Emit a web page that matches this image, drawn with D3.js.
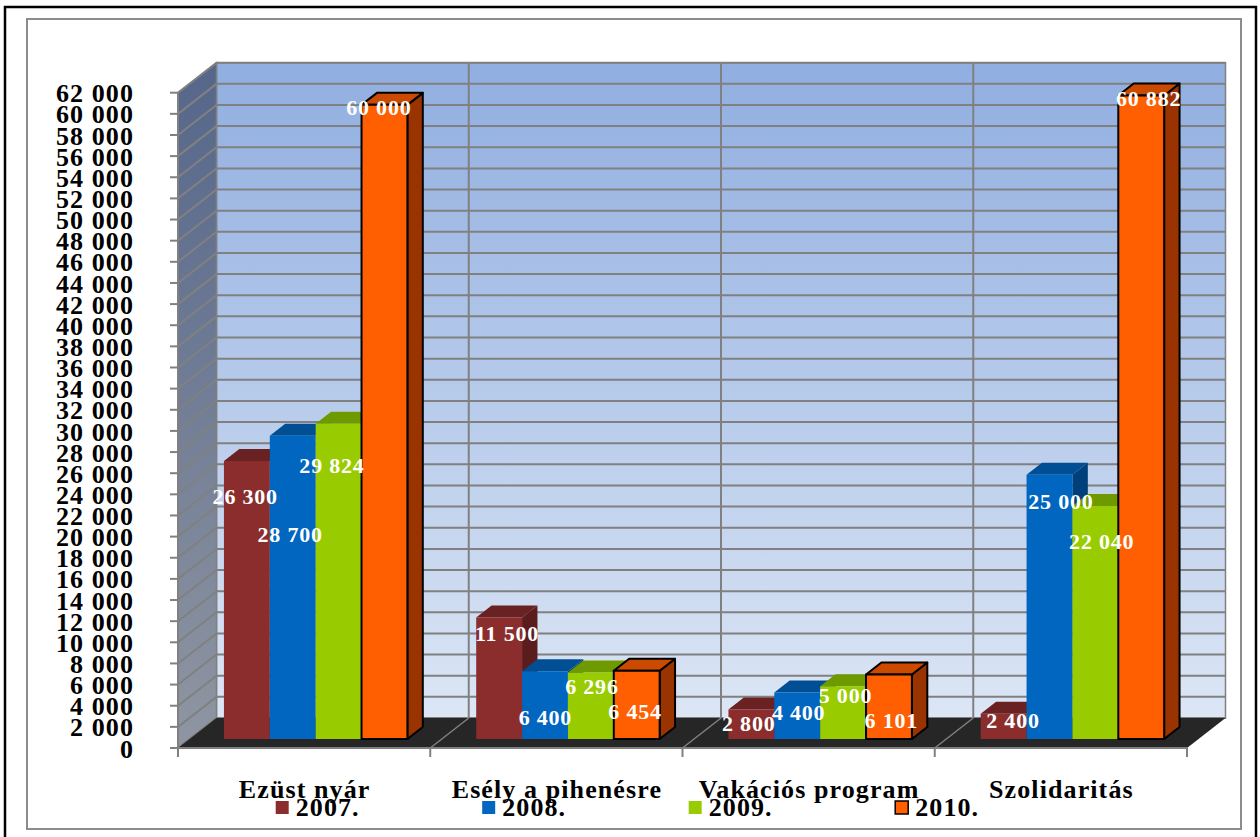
<!DOCTYPE html>
<html>
<head>
<meta charset="utf-8">
<script src="https://cdn.jsdelivr.net/npm/d3@7"></script>
<style>
  html, body { margin: 0; padding: 0; background: #ffffff; }
  svg { display: block; }
  text { font-family: "Liberation Serif", "Times New Roman", serif; font-weight: bold; }
</style>
</head>
<body>
<svg id="chart" width="1260" height="837"></svg>
<script>
// Programme categories and yearly series
const categories = ["Ezüst nyár", "Esély a pihenésre", "Vakációs program", "Szolidaritás"];
const years = ["2007.", "2008.", "2009.", "2010."];
const values2007 = [26300, 11500, 2800, 2400];
const values2008 = [28700, 6400, 4400, 25000];
const values2009 = [29824, 6296, 5000, 22040];
const values2010 = [60000, 6454, 6101, 60882];
const yMax = 62000;
const yStep = 2000;

// Hand-placed nudges for the value labels, relative to each column's top
const nudge2007 = [[-2, 36], [7.5, 16.5], [-3, 14], [9, 7]];
const nudge2008 = [[-3, 99], [0, 46], [1, 20], [11, 27]];
const nudge2009 = [[-7, 42], [0.7, 14], [2, 9], [6, 36]];
const nudge2010 = [[-6, 3], [-2, 41], [2, 46], [7, 3]];

const seriesValues = [values2007, values2008, values2009, values2010];
const seriesNudges = [nudge2007, nudge2008, nudge2009, nudge2010];

// Colours per series: front, top, side faces
const palette = [
  { front: "#8b2d2d", top: "#6a2121", side: "#5a1c1c", stroke: null },
  { front: "#0066bf", top: "#004f95", side: "#00407a", stroke: null },
  { front: "#99cc00", top: "#6e9a00", side: "#5f8500", stroke: null },
  { front: "#ff5f00", top: "#cc4a00", side: "#993300", stroke: "#000000" }
];

const svg = d3.select("#chart");
const fmt = d3.formatLocale({ decimal: ",", thousands: " ", grouping: [3] }).format(",d");

// Frames
svg.append("rect").attr("x", 5).attr("y", 7).attr("width", 1251).attr("height", 845)
  .attr("fill", "none").attr("stroke", "#000").attr("stroke-width", 2.5);
svg.append("rect").attr("x", 27).attr("y", 19).attr("width", 1214).attr("height", 810)
  .attr("fill", "#fff").attr("stroke", "#8c8c8c").attr("stroke-width", 2);

// Oblique 3D projection
const plotX0 = 178, plotX1 = 1187;
const depthDX = 38.5, depthDY = -30;
const barFront = 0.3, barBack = 0.7;

const xCat = d3.scaleBand().domain(categories).range([plotX0, plotX1]);
const xSer = d3.scaleBand().domain(years).range([0, xCat.bandwidth()]).paddingOuter(0.75);
const y = d3.scaleLinear().domain([0, yMax]).range([748, 92.7]);

const P = (x, v, d) => [x + d * depthDX, y(v) + d * depthDY];
const poly = pts => pts.map(p => p.join(",")).join(" ");

const defs = svg.append("defs");
const gBack = defs.append("linearGradient").attr("id", "backWall")
  .attr("gradientUnits", "userSpaceOnUse").attr("x1", 0).attr("x2", 0)
  .attr("y1", P(0, yMax, 1)[1]).attr("y2", P(0, 0, 1)[1]);
gBack.append("stop").attr("offset", 0).attr("stop-color", "#90aee0");
gBack.append("stop").attr("offset", 1).attr("stop-color", "#dce6f5");
const gSide = defs.append("linearGradient").attr("id", "sideWall")
  .attr("gradientUnits", "userSpaceOnUse").attr("x1", 0).attr("x2", 0)
  .attr("y1", P(0, yMax, 1)[1]).attr("y2", P(0, 0, 0)[1]);
gSide.append("stop").attr("offset", 0).attr("stop-color", "#55668a");
gSide.append("stop").attr("offset", 1).attr("stop-color", "#8f96a2");

const grid = "#808080";
const ticks = d3.range(0, yMax + 1, yStep);

// Back wall
svg.append("polygon")
  .attr("points", poly([P(plotX0, 0, 1), P(plotX1, 0, 1), P(plotX1, yMax, 1), P(plotX0, yMax, 1)]))
  .attr("fill", "url(#backWall)").attr("stroke", grid).attr("stroke-width", 1.5);
// Side wall
svg.append("polygon")
  .attr("points", poly([P(plotX0, 0, 0), P(plotX0, 0, 1), P(plotX0, yMax, 1), P(plotX0, yMax, 0)]))
  .attr("fill", "url(#sideWall)").attr("stroke", grid).attr("stroke-width", 1.5);

// Horizontal gridlines on side and back walls
const gridG = svg.append("g").attr("stroke", grid).attr("stroke-width", 2).attr("fill", "none");
ticks.forEach(v => {
  const a = P(plotX0, v, 0), b = P(plotX0, v, 1), c = P(plotX1, v, 1);
  gridG.append("polyline").attr("points", poly([a, b, c]));
});
// Category dividers on the back wall
d3.range(1, categories.length).forEach(k => {
  const x = plotX0 + k * xCat.step();
  gridG.append("line")
    .attr("x1", P(x, 0, 1)[0]).attr("y1", P(x, 0, 1)[1])
    .attr("x2", P(x, yMax, 1)[0]).attr("y2", P(x, yMax, 1)[1]);
});

// Floor
svg.append("polygon")
  .attr("points", poly([P(plotX0, 0, 0), P(plotX1, 0, 0), P(plotX1, 0, 1), P(plotX0, 0, 1)]))
  .attr("fill", "#262626");
d3.range(1, categories.length).forEach(k => {
  const x = plotX0 + k * xCat.step();
  svg.append("line").attr("stroke", grid).attr("stroke-width", 1.5)
    .attr("x1", P(x, 0, 0)[0]).attr("y1", P(x, 0, 0)[1])
    .attr("x2", P(x, 0, 1)[0]).attr("y2", P(x, 0, 1)[1]);
});

// Axes on the front plane
const axisG = svg.append("g").attr("stroke", grid).attr("stroke-width", 2);
axisG.append("line").attr("x1", plotX0).attr("x2", plotX0).attr("y1", y(yMax)).attr("y2", y(0));
axisG.append("line").attr("x1", plotX0).attr("x2", plotX1).attr("y1", y(0)).attr("y2", y(0));
ticks.forEach(v => {
  axisG.append("line").attr("x1", plotX0 - 8).attr("x2", plotX0).attr("y1", y(v)).attr("y2", y(v));
});
d3.range(0, categories.length + 1).forEach(k => {
  const x = plotX0 + k * xCat.step();
  axisG.append("line").attr("x1", x).attr("x2", x).attr("y1", y(0)).attr("y2", y(0) + 9);
});

// Y tick labels
svg.append("g").selectAll("text").data(ticks).join("text")
  .attr("x", 134).attr("y", v => y(v) + 9.6)
  .attr("text-anchor", "end").attr("font-size", 26).attr("letter-spacing", 1.1).attr("fill", "#000")
  .text(v => fmt(v));

// Columns
const barsG = svg.append("g");
categories.forEach((cat, ci) => {
  years.forEach((yr, si) => {
    const v = seriesValues[si][ci];
    const c = palette[si];
    const x0 = xCat(cat) + xSer(yr), x1 = x0 + xSer.bandwidth();
    const g = barsG.append("g")
      .attr("stroke", c.stroke || "none").attr("stroke-width", c.stroke ? 2 : 0)
      .attr("stroke-linejoin", "round");
    g.append("polygon").attr("fill", c.side)
      .attr("points", poly([P(x1, 0, barFront), P(x1, 0, barBack), P(x1, v, barBack), P(x1, v, barFront)]));
    g.append("polygon").attr("fill", c.top)
      .attr("points", poly([P(x0, v, barFront), P(x1, v, barFront), P(x1, v, barBack), P(x0, v, barBack)]));
    g.append("polygon").attr("fill", c.front)
      .attr("points", poly([P(x0, 0, barFront), P(x1, 0, barFront), P(x1, v, barFront), P(x0, v, barFront)]));
  });
});

// Value labels
const labelsG = svg.append("g");
categories.forEach((cat, ci) => {
  years.forEach((yr, si) => {
    const v = seriesValues[si][ci];
    const [ndx, ndy] = seriesNudges[si][ci];
    const xc = xCat(cat) + xSer(yr) + xSer.bandwidth() / 2;
    const [px, py] = P(xc, v, barFront);
    labelsG.append("text")
      .attr("x", px + ndx + 0.4).attr("y", py + ndy + 7.4)
      .attr("text-anchor", "middle").attr("font-size", 22).attr("letter-spacing", 0.8).attr("fill", "#fff")
      .text(fmt(v));
  });
});

// Category labels
svg.append("g").selectAll("text").data(categories).join("text")
  .attr("x", d => xCat(d) + xCat.bandwidth() / 2 + 0.5).attr("y", 798)
  .attr("text-anchor", "middle").attr("font-size", 26).attr("letter-spacing", 1.1).attr("fill", "#000")
  .text(d => d);

// Legend
const legend = svg.append("g");
years.forEach((yr, si) => {
  const lx = 275.7 + si * 206.5;
  const c = palette[si];
  legend.append("rect").attr("x", lx).attr("y", 801).attr("width", 13).attr("height", 13)
    .attr("fill", c.front).attr("stroke", c.stroke || "none").attr("stroke-width", c.stroke ? 1.5 : 0);
  legend.append("text").attr("x", lx + 20).attr("y", 816)
    .attr("font-size", 26).attr("letter-spacing", 1.1).attr("fill", "#000").text(yr);
});
</script>
</body>
</html>
